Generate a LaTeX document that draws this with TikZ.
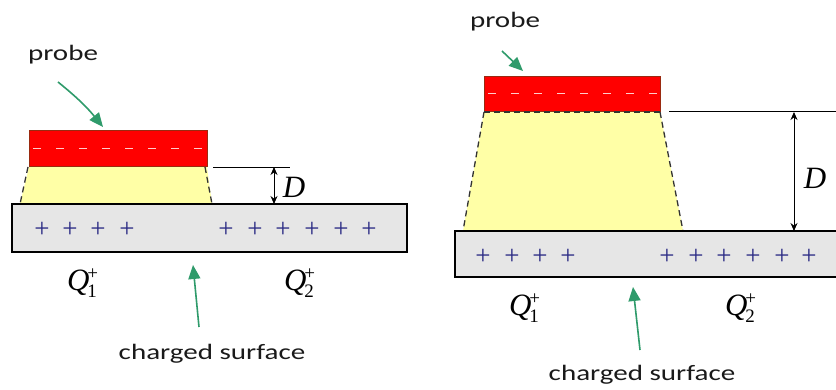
\documentclass[tikz,border=0pt]{standalone}
\usepackage{fontspec}
\usetikzlibrary{arrows.meta}
\newfontfamily\labfont[FakeStretch=1.32]{Carlito}
\newfontfamily\serfont{Liberation Serif}
\definecolor{probered}{HTML}{FF0000}
\definecolor{probeedge}{HTML}{9A2A10}
\definecolor{fieldyellow}{HTML}{FFFFA6}
\definecolor{surfgray}{HTML}{E6E6E6}
\definecolor{arrowgreen}{HTML}{2F9B6B}
\definecolor{plusblue}{HTML}{2B2B85}
\definecolor{textdark}{HTML}{1A1A1A}
\newcommand{\qlabel}[1]{\textit{Q}\kern-2pt\makebox[0pt][l]{\raisebox{11pt}{\fontsize{19}{19}\selectfont +}}\raisebox{-7pt}{\fontsize{19}{19}\selectfont #1}}
\tikzset{
 lab/.style={font=\labfont\fontsize{22}{22}\selectfont, text=textdark, inner sep=0pt},
 greenarrow/.style={draw=arrowgreen, line width=1.6pt, -{Triangle[length=14pt,width=12pt]}},
 plussign/.style={font=\serfont\fontsize{27}{27}\selectfont, text=plusblue, inner sep=0pt},
 qlab/.style={font=\serfont\fontsize{31}{31}\selectfont, inner sep=0pt},
 dlab/.style={font=\serfont\itshape\fontsize{31}{31}\selectfont, inner sep=0pt},
 surface/.style={fill=surfgray, draw=black, line width=1.8pt},
 probebox/.style={fill=probered, draw=probeedge, line width=1pt},
 field/.style={fill=fieldyellow},
 fieldedge/.style={draw=black!80, line width=1.3pt, dash pattern=on 6pt off 4pt},
 chargeline/.style={draw=white!80!red, line width=1pt, dash pattern=on 8pt off 15pt},
 dimline/.style={draw=black, line width=0.9pt},
 dimarrow/.style={draw=black, line width=0.9pt, {Stealth[length=8pt,width=7pt]}-{Stealth[length=8pt,width=7pt]}},
}
\begin{document}
\begin{tikzpicture}[x=1pt,y=-1pt]
\clip (0,0) rectangle (836,390);
\fill[white] (0,0) rectangle (836,390);

% ---------------- left diagram ----------------
\fill[field] (29,167) -- (207,167) -- (212,204) -- (20,204) -- cycle;
\draw[fieldedge] (28,167) -- (20,204);
\draw[fieldedge] (205,167) -- (212,204);
\draw[surface] (12,204) rectangle (407,252);
\draw[probebox] (29,131) rectangle (207,167);
\draw[chargeline] (33,149) -- (205,149);

\foreach \x [count=\i] in {42,70,98,127,226,255,283,312,341,369}
  \node[plussign] (pl\i) at (\x,230) {+};

\coordinate (dLt) at (274,167);
\coordinate (dLb) at (274,204);
\coordinate (hLa) at (213,167);
\coordinate (hLb) at (290,167);
\draw[dimline] (hLa) -- (hLb);
\draw[dimarrow] (dLt) -- (dLb);
\node[dlab] (DL) at (294,187) {D};

\node[lab] (probeL) at (63,55) {probe};
\coordinate (paLs) at (58,82);
\coordinate (paLe) at (103,127);
\draw[greenarrow] (paLs) to[bend left=6] (paLe);

\node[qlab] (Q1L) at (82,283) {\qlabel{1}};
\node[qlab] (Q2L) at (299,283) {\qlabel{2}};

\node[lab] (csL) at (212,354) {charged surface};
\coordinate (saLs) at (199,327);
\coordinate (saLe) at (193,265);
\draw[greenarrow] (saLs) -- (saLe);

% ---------------- right diagram ----------------
\fill[field] (484,112) -- (660,112) -- (683,231) -- (463,231) -- cycle;
\draw[fieldedge] (484,112) -- (463,231);
\draw[fieldedge] (660,112) -- (683,231);
\draw[surface] (455,231) rectangle (850,277);
\draw[probebox] (484,77) rectangle (660,112);
\draw[chargeline] (488,94) -- (658,94);
\draw[fieldedge] (484,112) -- (660,112);

\foreach \x [count=\i] in {483,512,540,568,667,696,724,753,782,809}
  \node[plussign] (pr\i) at (\x,257) {+};

\coordinate (dRt) at (794,112);
\coordinate (dRb) at (794,231);
\coordinate (hRa) at (669,111);
\coordinate (hRb) at (840,111);
\draw[dimline] (hRa) -- (hRb);
\draw[dimarrow] (dRt) -- (dRb);
\node[dlab] (DR) at (815,178) {D};

\node[lab] (probeR) at (505,22) {probe};
\coordinate (paRs) at (502,51);
\coordinate (paRe) at (523,71);
\draw[greenarrow] (paRs) -- (paRe);

\node[qlab] (Q1R) at (524,308) {\qlabel{1}};
\node[qlab] (Q2R) at (740,308) {\qlabel{2}};

\node[lab] (csR) at (642,375) {charged surface};
\coordinate (saRs) at (640,350);
\coordinate (saRe) at (633,287);
\draw[greenarrow] (saRs) -- (saRe);
\end{tikzpicture}
\end{document}
